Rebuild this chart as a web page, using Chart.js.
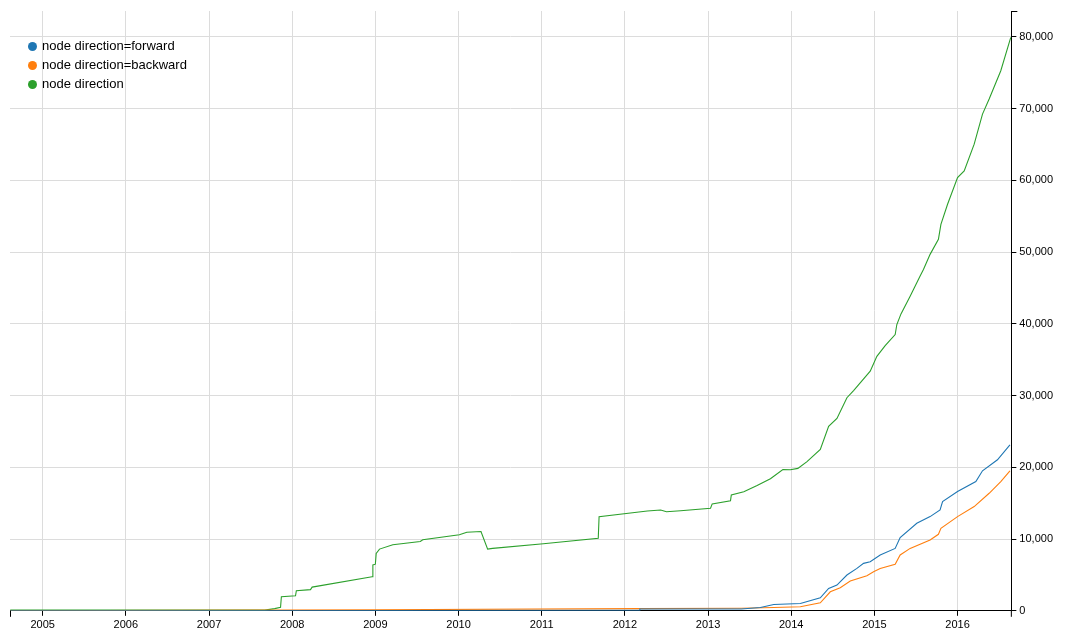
<!DOCTYPE html>
<html>
<head>
<meta charset="utf-8">
<script src="https://cdn.jsdelivr.net/npm/chart.js@4/dist/chart.umd.min.js"></script>
<style>
  body { margin: 0; background: #fff; }
  #wrap { position: relative; width: 1080px; height: 640px; }
  #legend {
    position: absolute; left: 28px; top: 36px;
    font: 13px "Liberation Sans", Arial, sans-serif; color: #000;
  }
  #legend div { height: 19px; line-height: 19px; white-space: nowrap; }
  #legend span.dot {
    display: inline-block; width: 9px; height: 9px; border-radius: 50%;
    margin-right: 5px; vertical-align: -0.5px;
  }
</style>
</head>
<body>
<div id="wrap">
  <canvas id="chart" width="1080" height="640"></canvas>
  <div id="legend"></div>
</div>
<script>
// series labels and colours
const seriesNames = ["node direction=forward", "node direction=backward", "node direction"];
const seriesColors = ["#1f77b4", "#ff7f0e", "#2ca02c"];

// axis ranges and tick values
const xMin = 2004.607;
const xMax = 2016.647;
const yMax = 83600;
const yearTicks = [2005, 2006, 2007, 2008, 2009, 2010, 2011, 2012, 2013, 2014, 2015, 2016];
const countTicks = [0, 10000, 20000, 30000, 40000, 50000, 60000, 70000, 80000];

// node direction=forward
const forwardYears = [2004.61, 2009.0, 2012.17, 2012.18, 2013.4, 2013.63, 2013.79, 2014.11, 2014.35, 2014.45,
  2014.55, 2014.67, 2014.79, 2014.87, 2014.95, 2015.07, 2015.25, 2015.31, 2015.51, 2015.67,
  2015.79, 2015.82, 2016.0, 2016.22, 2016.3, 2016.48, 2016.63];
const forwardCounts = [0, 50, 80, 250, 250, 460, 880, 1020, 1820, 3120,
  3590, 4990, 5910, 6610, 6840, 7780, 8700, 10200, 12200, 13130,
  14060, 15220, 16620, 18020, 19510, 21050, 23140];

// node direction=backward
const backwardYears = [2004.61, 2009.0, 2012.17, 2013.4, 2013.79, 2014.11, 2014.35, 2014.47, 2014.59, 2014.71,
  2014.91, 2014.99, 2015.07, 2015.25, 2015.31, 2015.43, 2015.67, 2015.77, 2015.8, 2016.0,
  2016.2, 2016.38, 2016.52, 2016.63];
const backwardCounts = [0, 150, 300, 350, 450, 560, 1120, 2650, 3210, 4140,
  4890, 5450, 5910, 6470, 7780, 8700, 9870, 10660, 11490, 13130,
  14530, 16380, 18020, 19510];

// node direction
const directionYears = [2004.61, 2007.67, 2007.79, 2007.86, 2007.87, 2008.04, 2008.05, 2008.22, 2008.24, 2008.96,
  2008.97, 2009.0, 2009.01, 2009.05, 2009.21, 2009.54, 2009.57, 2010.01, 2010.1, 2010.27,
  2010.35, 2010.41, 2011.02, 2011.68, 2011.69, 2012.27, 2012.43, 2012.5, 2012.67, 2013.03,
  2013.05, 2013.27, 2013.28, 2013.43, 2013.59, 2013.75, 2013.9, 2013.99, 2014.08, 2014.19,
  2014.35, 2014.45, 2014.55, 2014.67, 2014.75, 2014.95, 2015.03, 2015.13, 2015.25, 2015.27,
  2015.32, 2015.43, 2015.55, 2015.59, 2015.67, 2015.77, 2015.8, 2015.88, 2016.0, 2016.08,
  2016.2, 2016.3, 2016.38, 2016.52, 2016.64];
const directionCounts = [100, 100, 300, 500, 1950, 2100, 2800, 2950, 3300, 4750,
  6400, 6500, 8000, 8600, 9200, 9650, 9900, 10600, 10950, 11050,
  8600, 8700, 9350, 10100, 13100, 13900, 14050, 13800, 13950, 14300,
  14900, 15350, 16150, 16600, 17450, 18400, 19700, 19650, 19850, 20800,
  22500, 25700, 26800, 29700, 30700, 33400, 35470, 36970, 38500, 39900,
  41380, 43850, 46650, 47580, 49680, 51770, 53870, 56660, 60380, 61310,
  65040, 69230, 71330, 75280, 79930];

const toPoints = (xs, ys) => xs.map((x, i) => ({ x, y: ys[i] }));
const seriesData = [
  toPoints(forwardYears, forwardCounts),
  toPoints(backwardYears, backwardCounts),
  toPoints(directionYears, directionCounts),
];

// d3-style outer ticks on the axis ends
const outerTicks = {
  id: "outerTicks",
  afterDraw(chart) {
    const { ctx, chartArea: a } = chart;
    ctx.save();
    ctx.strokeStyle = "#000";
    ctx.lineWidth = 1;
    ctx.beginPath();
    ctx.moveTo(a.right, a.top + 0.5);
    ctx.lineTo(a.right + 6, a.top + 0.5);
    ctx.moveTo(a.left + 0.5, a.bottom);
    ctx.lineTo(a.left + 0.5, a.bottom + 6);
    ctx.moveTo(a.right, a.bottom);
    ctx.lineTo(a.right, a.bottom + 6);
    ctx.stroke();
    ctx.restore();
  },
};

Chart.defaults.font.family = '"Liberation Sans", Arial, sans-serif';
Chart.defaults.color = "#000";

new Chart(document.getElementById("chart").getContext("2d"), {
  type: "line",
  data: {
    datasets: seriesData.map((pts, i) => ({
      label: seriesNames[i],
      data: pts,
      borderColor: seriesColors[i],
      backgroundColor: seriesColors[i],
      borderWidth: 1.1,
      pointRadius: 0,
      tension: 0,
      fill: false,
    })),
  },
  options: {
    responsive: false,
    animation: false,
    layout: { padding: { left: 10, top: 11, right: 24, bottom: 5 } },
    plugins: { legend: { display: false }, tooltip: { enabled: false } },
    scales: {
      x: {
        type: "linear",
        min: xMin,
        max: xMax,
        afterBuildTicks: axis => {
          axis.ticks = yearTicks.map(v => ({ value: v }));
        },
        ticks: { font: { size: 11 }, padding: 3, maxRotation: 0, callback: v => String(v) },
        grid: { color: "#dcdcdc", tickColor: "#000", tickLength: 5 },
        border: { color: "#000" },
      },
      y: {
        position: "right",
        min: 0,
        max: yMax,
        afterBuildTicks: axis => {
          axis.ticks = countTicks.map(v => ({ value: v }));
        },
        ticks: {
          font: { size: 11 },
          padding: 3,
          callback: v => v.toLocaleString("en-US"),
        },
        grid: { color: "#dcdcdc", tickColor: "#000", tickLength: 5 },
        border: { color: "#000" },
      },
    },
  },
  plugins: [outerTicks],
});

document.getElementById("legend").innerHTML = seriesNames
  .map((n, i) => `<div><span class="dot" style="background:${seriesColors[i]}"></span>${n}</div>`)
  .join("");
</script>
</body>
</html>
